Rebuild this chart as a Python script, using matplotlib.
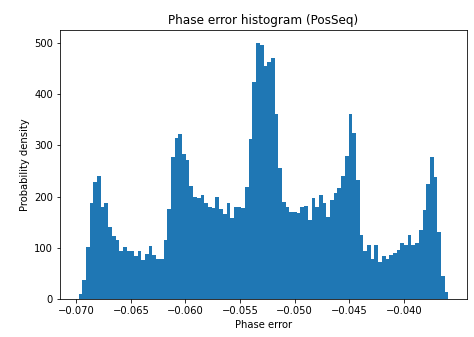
import numpy as np
import matplotlib
matplotlib.use("Agg")
import matplotlib.pyplot as plt

# Histogram range and bin count
x_min = -0.0698
x_max = -0.0359
n_bins = 100

# Probability density per bin (left to right)
density = [
    10, 37, 102, 187, 229, 240, 180, 187, 140, 123,
    115, 93, 102, 93, 93, 83, 93, 77, 88, 104,
    85, 79, 79, 115, 175, 277, 314, 323, 283, 272,
    220, 200, 197, 202, 187, 180, 177, 200, 175, 165,
    188, 159, 180, 180, 178, 218, 312, 424, 500, 495,
    455, 462, 470, 361, 256, 190, 180, 170, 170, 167,
    180, 182, 154, 197, 180, 202, 188, 161, 193, 207,
    216, 240, 280, 362, 324, 232, 125, 93, 105, 78,
    105, 73, 83, 78, 86, 90, 95, 110, 105, 125,
    105, 110, 134, 173, 224, 277, 239, 131, 44, 13,
]

title = "Phase error histogram (PosSeq)"
xlabel = "Phase error"
ylabel = "Probability density"

edges = np.linspace(x_min, x_max, n_bins + 1)
centers = 0.5 * (edges[:-1] + edges[1:])

fig = plt.figure(figsize=(474 / 72, 337 / 72), dpi=72)
ax = fig.add_axes([60 / 474, 1 - 299 / 337, (467 - 60) / 474, (299 - 30) / 337])
ax.hist(centers, bins=edges, weights=density, color="#1f77b4",
        histtype="stepfilled")
ax.set_title(title, fontsize=12)
ax.set_xlabel(xlabel, fontsize=10)
ax.set_ylabel(ylabel, fontsize=10)
ax.set_xticks([-0.070, -0.065, -0.060, -0.055, -0.050, -0.045, -0.040])
ax.set_yticks([0, 100, 200, 300, 400, 500])
fig.savefig("out.png", dpi=72)
